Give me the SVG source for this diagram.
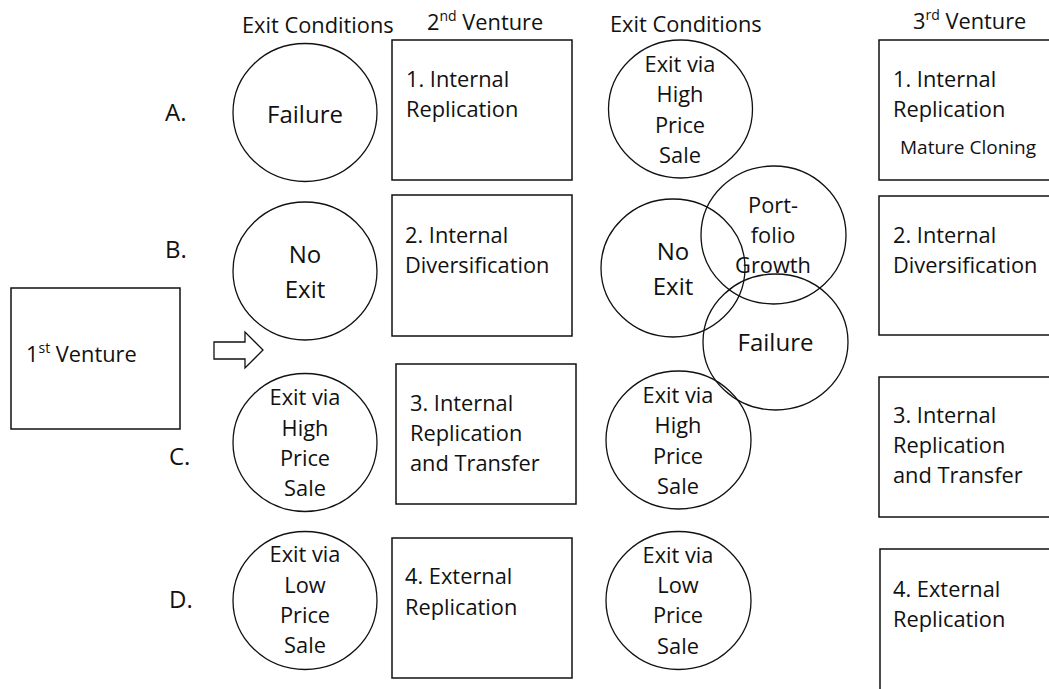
<svg xmlns="http://www.w3.org/2000/svg" width="1049" height="689" viewBox="0 0 1049 689">
<style>
text{font-family:"Open Sans","Noto Sans",sans-serif;fill:#111;font-size:21.8px}
.big{font-size:24px}
.sm{font-size:19px}
.c{text-anchor:middle}
.box{fill:none;stroke:#111;stroke-width:1.5}
.circ{fill:none;stroke:#111;stroke-width:1.3}
.sup{font-size:14px}
</style>
<rect width="1049" height="689" fill="#fff"/>
<g id="headers">
<text x="242" y="33">Exit Conditions</text>
<text x="427" y="30">2<tspan class="sup" dy="-9">nd</tspan><tspan dy="9"> Venture</tspan></text>
<text x="610" y="32">Exit Conditions</text>
<text x="913" y="29">3<tspan class="sup" dy="-9">rd</tspan><tspan dy="9"> Venture</tspan></text>
</g>
<g id="row-labels">
<text class="big" x="165" y="121">A.</text>
<text class="big" x="165" y="258">B.</text>
<text class="big" x="169" y="465">C.</text>
<text class="big" x="169" y="608">D.</text>
</g>
<g id="first-venture">
<rect class="box" x="11" y="288" width="169" height="141"/>
<text x="26" y="362">1<tspan class="sup" dy="-9">st</tspan><tspan dy="9"> Venture</tspan></text>
</g>
<g id="connectors">
<path d="M214,342 L245,342 L245,332 L263,350 L245,368 L245,359 L214,359 Z" fill="#fff" stroke="#111" stroke-width="1.3"/>
</g>
<g id="exit1-a">
<ellipse class="circ" cx="305" cy="112.5" rx="72" ry="69"/>
<text class="big c" x="305" y="123">Failure</text>
</g>
<g id="exit1-b">
<ellipse class="circ" cx="305" cy="271" rx="72" ry="69"/>
<text class="big c" x="305" y="263">No</text>
<text class="big c" x="305" y="298">Exit</text>
</g>
<g id="exit1-c">
<ellipse class="circ" cx="305" cy="442.5" rx="72" ry="69"/>
<text class="c" x="305" y="405">Exit via</text>
<text class="c" x="305" y="436">High</text>
<text class="c" x="305" y="466">Price</text>
<text class="c" x="305" y="496">Sale</text>
</g>
<g id="exit1-d">
<ellipse class="circ" cx="305" cy="600.5" rx="72" ry="69"/>
<text class="c" x="305" y="562">Exit via</text>
<text class="c" x="305" y="593">Low</text>
<text class="c" x="305" y="623">Price</text>
<text class="c" x="305" y="653">Sale</text>
</g>
<g id="v2-1">
<rect class="box" x="392" y="40" width="180" height="140"/>
<text x="406" y="87">1. Internal</text>
<text x="406" y="117">Replication</text>
</g>
<g id="v2-2">
<rect class="box" x="392" y="195" width="180" height="141"/>
<text x="405" y="243">2. Internal</text>
<text x="405" y="273">Diversification</text>
</g>
<g id="v2-3">
<rect class="box" x="396" y="364" width="180" height="140"/>
<text x="410" y="411">3. Internal</text>
<text x="410" y="441">Replication</text>
<text x="410" y="471">and Transfer</text>
</g>
<g id="v2-4">
<rect class="box" x="392" y="538" width="180" height="140"/>
<text x="405" y="584">4. External</text>
<text x="405" y="615">Replication</text>
</g>
<g id="exit2-a">
<ellipse class="circ" cx="680.5" cy="109" rx="72" ry="69"/>
<text class="c" x="680" y="72">Exit via</text>
<text class="c" x="680" y="102">High</text>
<text class="c" x="680" y="133">Price</text>
<text class="c" x="680" y="163">Sale</text>
</g>
<g id="exit2-noexit">
<ellipse class="circ" cx="673" cy="268" rx="72" ry="69"/>
<text class="big c" x="673" y="260">No</text>
<text class="big c" x="673" y="295">Exit</text>
</g>
<g id="exit2-portfolio">
<ellipse class="circ" cx="773.5" cy="235" rx="72.5" ry="69"/>
<text class="c" x="773" y="213">Port-</text>
<text class="c" x="773" y="243">folio</text>
<text class="c" x="773" y="273">Growth</text>
</g>
<g id="exit2-failure">
<ellipse class="circ" cx="775.5" cy="342" rx="72.5" ry="68"/>
<text class="big c" x="775.5" y="351">Failure</text>
</g>
<g id="exit2-c">
<ellipse class="circ" cx="678.5" cy="440" rx="72.5" ry="69"/>
<text class="c" x="678" y="403">Exit via</text>
<text class="c" x="678" y="433">High</text>
<text class="c" x="678" y="464">Price</text>
<text class="c" x="678" y="494">Sale</text>
</g>
<g id="exit2-d">
<ellipse class="circ" cx="678.5" cy="600.5" rx="72.5" ry="69"/>
<text class="c" x="678" y="563">Exit via</text>
<text class="c" x="678" y="593">Low</text>
<text class="c" x="678" y="623">Price</text>
<text class="c" x="678" y="654">Sale</text>
</g>
<g id="v3-1">
<rect class="box" x="879" y="40" width="200" height="140"/>
<text x="893" y="87">1. Internal</text>
<text x="893" y="117">Replication</text>
<text class="sm" x="900" y="154">Mature Cloning</text>
</g>
<g id="v3-2">
<rect class="box" x="879" y="196" width="200" height="139"/>
<text x="893" y="243">2. Internal</text>
<text x="893" y="273">Diversification</text>
</g>
<g id="v3-3">
<rect class="box" x="879" y="377" width="200" height="140"/>
<text x="893" y="423">3. Internal</text>
<text x="893" y="453">Replication</text>
<text x="893" y="483">and Transfer</text>
</g>
<g id="v3-4">
<rect class="box" x="880" y="549" width="200" height="160"/>
<text x="893" y="597">4. External</text>
<text x="893" y="627">Replication</text>
</g>
</svg>
